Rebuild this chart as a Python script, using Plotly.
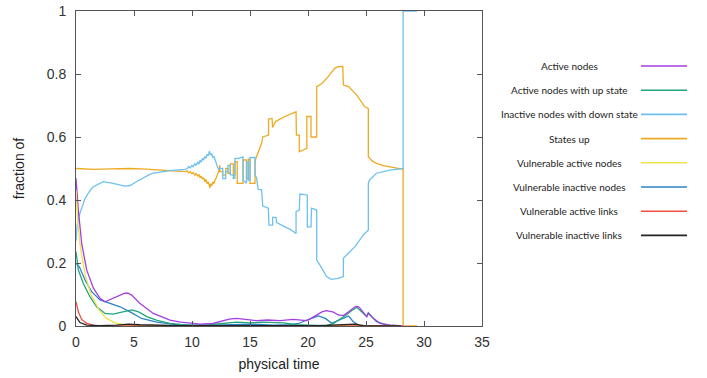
import plotly.graph_objects as go

# ---------------- data ----------------
names = ["Active nodes", "Active nodes with up state", "Inactive nodes with down state",
         "States up", "Vulnerable active nodes", "Vulnerable inactive nodes",
         "Vulnerable active links", "Vulnerable inactive links"]
colors = ["#a23ee3", "#22a47c", "#6ec1ef", "#eeaa22", "#efe24a", "#2a84c4", "#ee5040", "#222222"]

t_active = [0, 0.2, 0.49, 0.92, 1.5, 2.07, 2.5, 3.2, 3.8, 4.2, 4.5, 4.8, 5.5, 6.66, 8.1, 9.0, 10.1, 10.7,
            11.8, 12.4, 13.2, 13.85, 14.5, 15.3, 15.6, 16.5, 17.6, 18.7, 19.3, 19.9, 20.3, 20.75, 21.2,
            21.6, 22.2, 22.6, 23.05, 23.5, 24.05, 24.3, 24.5, 25.06, 25.2, 25.6, 26.2, 27.0, 27.9, 28.2]
y_active = [0.469, 0.368, 0.262, 0.178, 0.12, 0.088, 0.077, 0.088, 0.1, 0.104, 0.104, 0.098, 0.072, 0.04,
            0.019, 0.012, 0.0085, 0.006, 0.008, 0.014, 0.022, 0.024, 0.022, 0.019, 0.017, 0.019, 0.017,
            0.021, 0.018, 0.017, 0.025, 0.035, 0.045, 0.049, 0.044, 0.035, 0.033, 0.045, 0.061, 0.062,
            0.056, 0.03, 0.04, 0.025, 0.0085, 0.003, 0.001, 0.0]

t_up = [0, 0.2, 0.63, 1.2, 1.78, 2.5, 3.2, 3.8, 4.2, 4.8, 5.4, 6.1, 7.0, 8.1, 9.0, 10.1, 11.5, 13.0, 13.85,
        15.0, 16.0, 17.9, 19.0, 20.0, 21.0, 21.6, 22.2, 22.7, 23.3, 23.8, 24.2, 24.3, 25.06, 25.2, 25.9,
        26.5, 27.07, 28.0]
y_up = [0.236, 0.178, 0.135, 0.093, 0.061, 0.04, 0.038, 0.042, 0.045, 0.051, 0.045, 0.03, 0.018, 0.0085,
        0.005, 0.003, 0.004, 0.008, 0.012, 0.01, 0.012, 0.01, 0.004, 0.003, 0.002, 0.001, 0.0085, 0.02,
        0.035, 0.05, 0.059, 0.056, 0.03, 0.042, 0.0137, 0.007, 0.003, 0.0]

t_down = [0, 0.1, 0.34, 0.78, 1.2, 1.5, 2.35, 3.2, 4.2, 4.66, 5.2, 6.4, 6.7, 8.1, 9.4, 9.6, 9.7, 9.85, 10.0,
          10.1, 10.25, 10.35, 10.5, 10.6, 10.7, 10.8, 10.9, 11.0, 11.1, 11.2, 11.3, 11.4, 11.5, 11.55, 11.6,
          11.7, 11.8, 11.9, 12.0, 12.1, 12.2, 12.3, 12.4, 12.65, 12.65,
          12.9, 12.9, 13.1, 13.1, 13.3, 13.3, 13.56, 13.56, 13.7, 13.7, 14.0, 14.3, 14.4, 14.4, 14.7,
          14.7, 14.85, 14.85, 15.0, 15.0, 15.43, 15.43, 15.57, 15.7, 16.0, 16.1, 16.58, 16.64, 16.95,
          16.95, 17.24, 17.3, 17.73, 18.45, 18.97, 18.97, 19.25, 19.3, 19.94, 19.94, 20.26, 20.3, 20.75,
          20.75, 21.2, 21.6, 22.0, 22.6, 23.05, 23.05, 24.05, 24.77, 25.2, 25.2, 25.3, 25.9, 27.07,
          28.15, 28.2, 28.2, 29.4]
y_down = [0.27, 0.32, 0.358, 0.405, 0.43, 0.442, 0.458, 0.453, 0.444, 0.446, 0.458, 0.482, 0.485, 0.493,
          0.497, 0.5, 0.506, 0.502, 0.51, 0.506, 0.515, 0.51, 0.52, 0.514, 0.526, 0.52, 0.532, 0.527,
          0.538, 0.532, 0.545, 0.54, 0.555, 0.55, 0.543, 0.547, 0.535, 0.538, 0.525, 0.52, 0.505, 0.498,
          0.5, 0.5, 0.468, 0.468, 0.49, 0.49, 0.51, 0.51, 0.48, 0.48, 0.469, 0.469,
          0.532, 0.532, 0.537, 0.537, 0.463, 0.453, 0.52, 0.52, 0.463, 0.463, 0.535, 0.535, 0.48, 0.469,
          0.434, 0.432, 0.381, 0.374, 0.32, 0.32, 0.345, 0.345, 0.328, 0.32, 0.307, 0.294, 0.363, 0.368,
          0.419, 0.416, 0.315, 0.315, 0.374, 0.368, 0.21, 0.183, 0.157, 0.148, 0.151, 0.157, 0.215,
          0.252, 0.289, 0.305, 0.453, 0.463, 0.485, 0.495, 0.498, 0.5, 1.0, 1.0]

t_states = [0, 0.5, 1.5, 3.0, 4.7, 6.0, 8.1, 9.4, 9.6, 9.7, 9.85, 10.0, 10.1, 10.25, 10.35, 10.5, 10.6,
            10.7, 10.8, 10.9, 11.0, 11.1, 11.2, 11.3, 11.4, 11.5, 11.55, 11.6, 11.7, 11.8, 11.9, 12.0, 12.1,
            12.2, 12.3, 12.4, 12.4, 12.65, 12.65, 12.9, 12.9, 13.1, 13.1, 13.3,
            13.3, 13.56, 13.56, 13.7, 13.7, 13.9, 13.9, 14.4, 14.4, 14.7, 14.7, 14.85, 14.85, 15.0, 15.0,
            15.43, 15.43, 15.5, 15.7, 16.0, 16.1, 16.6, 16.6, 16.9, 16.95, 17.2, 18.0, 18.9, 18.97, 19.0,
            19.25, 19.25, 19.45, 19.8, 19.9, 19.9, 20.26, 20.26, 20.75, 20.75, 21.2, 21.7, 22.3, 22.6,
            23.0, 23.05, 23.5, 24.2, 24.9, 25.2, 25.2, 25.5, 25.9, 26.5, 27.1, 28.1, 28.2, 28.2, 29.4]
y_states = [0.5, 0.499, 0.497, 0.499, 0.5, 0.498, 0.493, 0.49, 0.492, 0.486, 0.49, 0.483, 0.487, 0.479,
            0.484, 0.476, 0.481, 0.47, 0.476, 0.466, 0.471, 0.458, 0.466, 0.452, 0.458, 0.442, 0.438,
            0.452, 0.445, 0.456, 0.452, 0.466, 0.47, 0.482, 0.49, 0.511, 0.49, 0.49, 0.479, 0.479,
            0.5, 0.5, 0.485, 0.485, 0.515, 0.515, 0.479, 0.479, 0.522, 0.522, 0.453, 0.453, 0.527, 0.527,
            0.469, 0.469, 0.53, 0.53, 0.453, 0.453, 0.516, 0.532, 0.553, 0.58, 0.6, 0.606, 0.657, 0.659,
            0.63, 0.649, 0.665, 0.68, 0.68, 0.606, 0.606, 0.553, 0.557, 0.564, 0.564, 0.665, 0.665, 0.6,
            0.6, 0.76, 0.77, 0.79, 0.818, 0.823, 0.824, 0.765, 0.76, 0.733, 0.696, 0.691, 0.5375, 0.525,
            0.516, 0.509, 0.504, 0.498, 0.498, 0.0, 0.0]

t_vuln_act = [0, 0.15, 0.4, 0.8, 1.3, 2.0, 2.6, 3.4, 4.5, 6.0, 10.0, 20.0, 28.0]
y_vuln_act = [0.43, 0.33, 0.245, 0.16, 0.1, 0.05, 0.025, 0.009, 0.002, 0.0, 0.0, 0.0, 0.0]

t_vuln_inact = [0, 0.29, 0.78, 1.35, 2.07, 2.93, 3.8, 4.66, 5.66, 6.96, 9.0, 11.0, 13.0, 15.0, 17.0, 18.5,
                19.2, 19.9, 20.9, 21.5, 22.04, 22.76, 23.5, 23.9, 24.5, 26.0]
y_vuln_inact = [0.199, 0.188, 0.146, 0.109, 0.083, 0.072, 0.061, 0.045, 0.024, 0.012, 0.003, 0.002, 0.004,
                0.006, 0.003, 0.004, 0.008, 0.019, 0.032, 0.024, 0.0085, 0.019, 0.032, 0.0137, 0.0, 0.0]

t_links_act = [0, 0.2, 0.49, 0.92, 1.64, 3.0, 10.0, 28.0]
y_links_act = [0.077, 0.045, 0.021, 0.0085, 0.001, 0.0, 0.0, 0.0]

t_links_inact = [0, 0.34, 0.92, 2.0, 3.5, 4.5, 5.5, 7.0, 9.0, 12.0, 15.0, 18.0, 21.0, 23.0, 24.05, 24.8,
                 26.0, 28.0]
y_links_inact = [0.03, 0.011, 0.003, 0.001, 0.003, 0.006, 0.004, 0.002, 0.001, 0.001, 0.002, 0.001, 0.001,
                 0.003, 0.006, 0.001, 0.0, 0.0]

series = [(t_active, y_active), (t_up, y_up), (t_down, y_down), (t_states, y_states),
          (t_vuln_act, y_vuln_act), (t_vuln_inact, y_vuln_inact), (t_links_act, y_links_act),
          (t_links_inact, y_links_inact)]

x_ticks = [0, 5, 10, 15, 20, 25, 30, 35]
y_ticks = [0, 0.2, 0.4, 0.6, 0.8, 1]
y_tick_labels = ["0", "0.2", "0.4", "0.6", "0.8", "1"]

# ---------------- figure ----------------
fig = go.Figure()
for i in [3, 2, 5, 1, 0, 4, 6, 7]:
    tx, ty = series[i]
    fig.add_trace(go.Scatter(x=tx, y=ty, mode="lines", name=names[i],
                             line=dict(color=colors[i], width=1.3), showlegend=False))

W, H = 707, 378
ml, mr, mt, mb = 76, 225, 11, 52
PW, PH = W - ml - mr, H - mt - mb
axis_font = dict(family="Liberation Sans, Arial, sans-serif", size=14, color="#333333")
title_font = dict(family="Liberation Sans, Arial, sans-serif", size=14, color="#222222")

fig.update_layout(
    width=W, height=H,
    margin=dict(l=ml, r=mr, t=mt, b=mb, autoexpand=False),
    paper_bgcolor="white", plot_bgcolor="white",
    xaxis=dict(range=[0, 35], tickvals=x_ticks, ticks="inside", ticklen=5, tickcolor="#555555",
               showline=True, linecolor="#555555", linewidth=1, mirror="allticks", showgrid=False,
               zeroline=False, tickfont=axis_font, automargin=False, ticklabelstandoff=3,
               title=dict(text="physical time", font=title_font, standoff=10)),
    yaxis=dict(range=[0, 1], tickvals=y_ticks, ticktext=y_tick_labels, ticks="inside", ticklen=5,
               tickcolor="#555555", showline=True, linecolor="#555555", linewidth=1, mirror="allticks",
               showgrid=False, zeroline=False, tickfont=axis_font, automargin=False,
               ticklabelstandoff=6,
               title=dict(text="fraction of", font=title_font, standoff=18)),
)

# custom legend: centered text with line sample to the right
leg_text_x = 569
leg_line_x0, leg_line_x1 = 641, 687
leg_y0, leg_dy = 66, 24.2
for i, nm in enumerate(names):
    ypx = leg_y0 + i * leg_dy
    yp = (H - mb - ypx) / PH
    fig.add_annotation(xref="paper", yref="paper", x=(leg_text_x - ml) / PW, y=yp, text=nm,
                       showarrow=False, xanchor="center", yanchor="middle",
                       font=dict(family="Lato, Open Sans, sans-serif", size=10, color="#222222"))
    fig.add_shape(type="line", xref="paper", yref="paper",
                  x0=(leg_line_x0 - ml) / PW, x1=(leg_line_x1 - ml) / PW, y0=yp, y1=yp,
                  line=dict(color=colors[i], width=1.6))

fig.write_html("out.html")
